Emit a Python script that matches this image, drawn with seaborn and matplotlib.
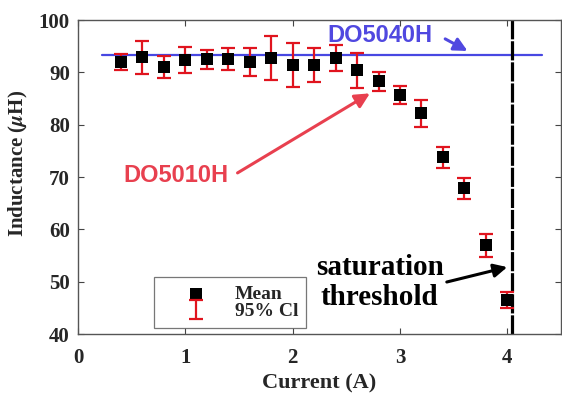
import numpy as np
import pandas as pd
import matplotlib
matplotlib.use('Agg')
import matplotlib.pyplot as plt
import seaborn as sns

# values
current = [0.4, 0.6, 0.8, 1.0, 1.2, 1.4, 1.6, 1.8, 2.0, 2.2,
           2.4, 2.6, 2.8, 3.0, 3.2, 3.4, 3.6, 3.8, 4.0]
inductance = [92.0, 92.9, 91.0, 92.3, 92.5, 92.5, 92.0, 92.7, 91.4, 91.4,
              92.8, 90.4, 88.3, 85.7, 82.2, 73.8, 67.9, 57.0, 46.5]
ci95 = [1.6, 3.2, 2.1, 2.5, 1.8, 2.1, 2.6, 4.2, 4.2, 3.2,
        2.5, 3.3, 1.8, 1.8, 2.6, 2.0, 2.0, 2.2, 1.5]
do5040h_level = 93.3
saturation_current = 4.04

df = pd.DataFrame({'Current': current, 'Inductance': inductance, 'CI': ci95})

sns.set_style('ticks')
plt.rcParams['font.family'] = ['Liberation Serif', 'DejaVu Serif']
plt.rcParams['font.weight'] = 'bold'
plt.rcParams['mathtext.fontset'] = 'stix'

fig = plt.figure(figsize=(5.62, 3.94), dpi=100)
ax = fig.add_axes([0.139, 0.152, 0.859, 0.797])

# DO5040H reference line and saturation threshold
ax.plot([0.22, 4.32], [do5040h_level, do5040h_level], color='#4747e2', lw=1.6, zorder=1)
ax.axvline(saturation_current, color='black', lw=2.3, linestyle=(0, (6, 0.6)), zorder=1)

ci = ax.errorbar(df['Current'], df['Inductance'], yerr=df['CI'], fmt='none',
                 ecolor='#e0141e', elinewidth=1.6, capsize=4.8, capthick=1.6,
                 zorder=2, label='95% Cl')
sns.scatterplot(data=df, x='Current', y='Inductance', marker='s', s=64,
                color='black', edgecolor='black', linewidth=0, zorder=3,
                ax=ax, label='Mean')

ax.set_xlim(0, 4.5)
ax.set_ylim(40, 100)
ax.set_xticks([0, 1, 2, 3, 4])
ax.set_yticks([40, 50, 60, 70, 80, 90, 100])
ax.tick_params(direction='in', top=True, right=True, length=4, width=0.8,
               labelsize=15, color='#444444')
ax.tick_params(axis='x', pad=10)
ax.tick_params(axis='y', pad=6)
for lab in ax.get_xticklabels() + ax.get_yticklabels():
    lab.set_fontweight('bold')
for sp in ax.spines.values():
    sp.set_color('#555555')
    sp.set_linewidth(1.0)

ax.set_xlabel('Current (A)', fontsize=16, fontweight='bold', labelpad=4)
ax.set_ylabel(r'Inductance ($\mu$H)', fontsize=15, fontweight='bold', labelpad=3)
ax.yaxis.set_label_coords(-0.1, 0.545)

handles, labels = ax.get_legend_handles_labels()
order = [labels.index('Mean'), labels.index('95% Cl')]
leg = ax.legend([handles[i] for i in order], [labels[i] for i in order],
                loc='lower left', bbox_to_anchor=(0.157, 0.019),
                prop={'weight': 'bold', 'size': 14}, frameon=True, fancybox=False,
                edgecolor='#555555', handlelength=3.5, handletextpad=0.25,
                borderpad=0.4, labelspacing=0.0, borderaxespad=0)
leg.get_frame().set_linewidth(0.9)
leg.set_zorder(5)

ax.annotate('DO5010H', xy=(2.72, 86.0), xytext=(0.91, 70.4),
            fontsize=17, fontweight='bold', color='#e8404f',
            family='Liberation Sans', ha='center', va='center',
            arrowprops=dict(arrowstyle='-|>', color='#e8404f', lw=2.2,
                            mutation_scale=22, shrinkA=5, shrinkB=0,
                            relpos=(1.0, 0.35)))
ax.annotate('DO5040H', xy=(3.63, 94.1), xytext=(2.81, 97.1),
            fontsize=17, fontweight='bold', color='#5048e0',
            family='Liberation Sans', ha='center', va='center',
            arrowprops=dict(arrowstyle='-|>', color='#5048e0', lw=2.2,
                            mutation_scale=20, shrinkA=8, shrinkB=0,
                            relpos=(1.0, 0.65)))
ax.annotate('saturation\nthreshold', xy=(4.0, 52.8), xytext=(2.81, 49.8),
            fontsize=21, fontweight='bold', color='black',
            ha='center', va='center', linespacing=1.15,
            arrowprops=dict(arrowstyle='-|>', color='black', lw=2.2,
                            mutation_scale=20, shrinkA=0, shrinkB=0,
                            relpos=(1.0, 0.5)))

fig.savefig('out.png', dpi=100)
